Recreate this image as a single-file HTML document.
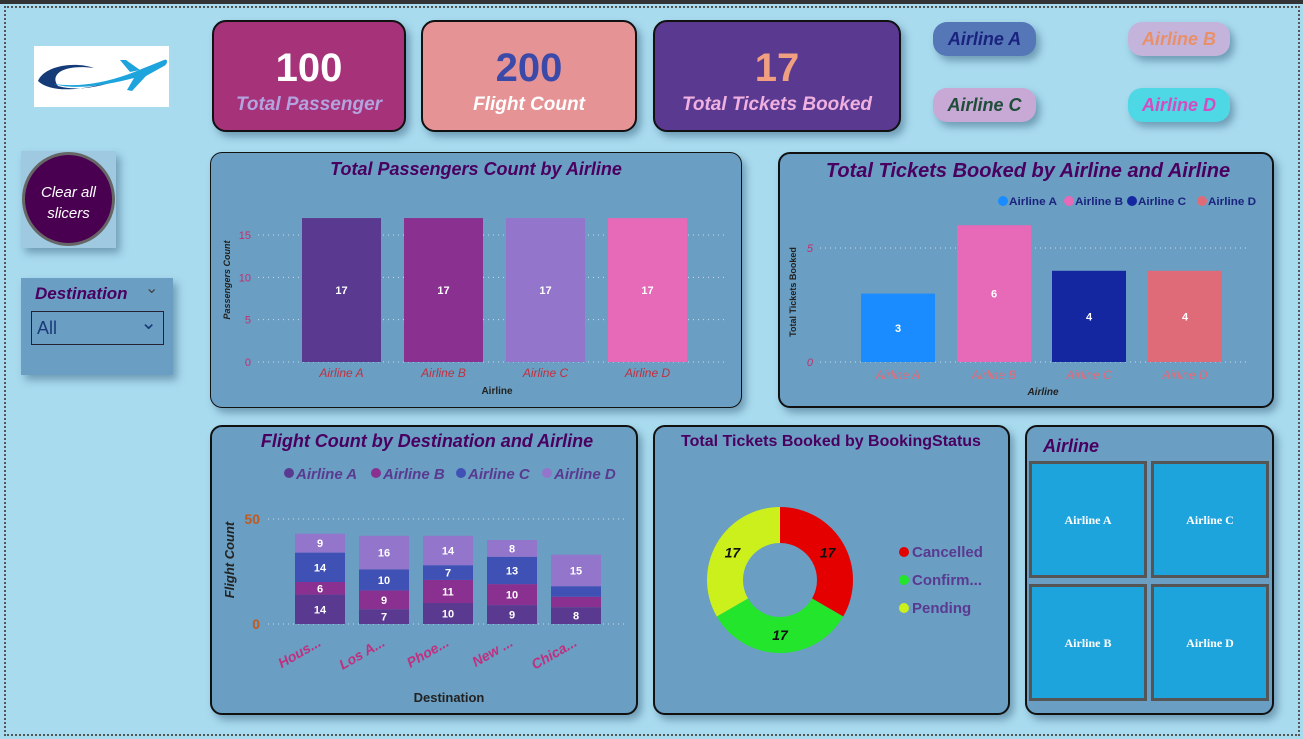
<!DOCTYPE html>
<html><head><meta charset="utf-8">
<style>
html,body{margin:0;padding:0;width:1303px;height:739px;overflow:hidden;background:#a9dbef;font-family:"Liberation Sans",sans-serif}
.abs{position:absolute;box-sizing:border-box}
.kpi{border:2px solid #111;border-radius:14px;text-align:center;box-shadow:4px 5px 8px rgba(40,80,110,.45)}
.kpi .v{font-weight:bold;font-size:40px;margin-top:24px;line-height:44px}
.kpi .l{font-style:italic;font-weight:bold;font-size:19px;margin-top:4px}
.pill{border-radius:14px;font-style:italic;font-weight:bold;font-size:18px;text-align:center;line-height:34px;box-shadow:4px 5px 8px rgba(40,80,110,.45)}
.panel{background:#6a9ec2;border:2px solid #111;border-radius:12px;box-shadow:4px 5px 8px rgba(40,80,110,.45)}
svg text{font-family:"Liberation Sans",sans-serif}
</style></head><body>
<div class="abs" style="left:4px;top:6px;width:1296px;height:730px;border:2px dotted #555"></div>
<div class="abs" style="left:0;top:0;width:1303px;height:4px;background:#333"></div>

<div class="abs" style="left:34px;top:46px;width:135px;height:61px;background:#fff">
<svg width="135" height="61"><path d="M4,35 C10,20 40,15 60,22 C30,18 15,28 24,40 C45,46 70,40 90,32 C60,42 20,50 4,35Z" fill="#143a78"/><path d="M20,38 C50,42 80,35 110,22 L130,14 C134,12 134,18 130,20 L112,30 L98,45 L93,44 L100,32 C70,40 40,44 20,38Z" fill="#1ea4dc"/><path d="M96,26 L86,14 L92,14 L106,24Z" fill="#1ea4dc"/></svg></div>

<div class="abs" style="left:21px;top:151px;width:95px;height:97px;background:#9ec9e0;box-shadow:4px 5px 8px rgba(40,80,110,.45)">
<div class="abs" style="left:1px;top:1px;width:93px;height:94px;border-radius:50%;background:#4a0050;border:3px solid #666;color:#fff;font-style:italic;font-size:15px;text-align:center;padding-top:27px;line-height:21px">Clear all<br>slicers</div></div>

<div class="abs" style="left:21px;top:278px;width:152px;height:97px;background:#6a9ec2;box-shadow:4px 5px 8px rgba(40,80,110,.45)">
<div class="abs" style="left:14px;top:6px;color:#4a0060;font-weight:bold;font-style:italic;font-size:17px">Destination</div>
<div class="abs" style="left:124px;top:0px;color:#444;font-size:16px">&#8964;</div>
<div class="abs" style="left:10px;top:33px;width:133px;height:34px;border:1px solid #223;color:#1a3a78;font-size:18px;padding:6px 0 0 5px">All<span style="position:absolute;right:6px;top:-2px;font-size:20px">&#8964;</span></div></div>

<div class="abs kpi" style="left:212px;top:20px;width:194px;height:112px;background:#a6327a"><div class="v" style="color:#fff">100</div><div class="l" style="color:#b3a4e0">Total Passenger</div></div>
<div class="abs kpi" style="left:421px;top:20px;width:216px;height:112px;background:#e69396"><div class="v" style="color:#3b4aa8">200</div><div class="l" style="color:#fff">Flight Count</div></div>
<div class="abs kpi" style="left:653px;top:20px;width:248px;height:112px;background:#5a3a91"><div class="v" style="color:#f0a080">17</div><div class="l" style="color:#f0b0e0">Total Tickets Booked</div></div>

<div class="abs pill" style="left:933px;top:22px;width:103px;height:34px;background:#5577b8;color:#1a237e">Airline A</div>
<div class="abs pill" style="left:1128px;top:22px;width:102px;height:34px;background:#c4b4dc;color:#e8906a">Airline B</div>
<div class="abs pill" style="left:933px;top:88px;width:103px;height:34px;background:#c8a8d4;color:#1f4d3a">Airline C</div>
<div class="abs pill" style="left:1128px;top:88px;width:102px;height:34px;background:#4ed8e6;color:#d54bc0">Airline D</div>

<div class="abs panel" style="left:210px;top:152px;width:532px;height:256px;border-width:1px"></div>
<div class="abs panel" style="left:778px;top:152px;width:496px;height:256px"></div>
<div class="abs panel" style="left:210px;top:425px;width:428px;height:290px"></div>
<div class="abs panel" style="left:653px;top:425px;width:357px;height:290px"></div>
<div class="abs panel" style="left:1025px;top:425px;width:249px;height:290px"></div>

<svg id="s" class="abs" style="left:0;top:0" width="1303" height="739"></svg>

<script>
// Chart 1
const airlines=["Airline A","Airline B","Airline C","Airline D"];
const passengers=[17,17,17,17];
const p1Ticks=[0,5,10,15];
// Chart 2
const tickets=[3,6,4,4];
const p2Ticks=[0,5];
// Chart 3
const destinations=["Hous...","Los A...","Phoe...","New ...","Chica..."];
const flightA=[14,7,10,9,8];
const flightB=[6,9,11,10,5];
const flightC=[14,10,7,13,5];
const flightD=[9,16,14,8,15];
const p3Ticks=[0,50];
// Donut
const statuses=["Cancelled","Confirm...","Pending"];
const statusVals=[17,17,17];

const NS="http://www.w3.org/2000/svg",S=document.getElementById('s');
function el(t,a,txt,name){const e=document.createElementNS(NS,t);for(const k in a)e.setAttribute(k,a[k]);if(txt!==undefined)e.textContent=txt;


S.appendChild(e);return e;}

// titles
el('text',{x:476,y:175,'text-anchor':'middle','font-size':18,'font-weight':'bold','font-style':'italic',fill:'#4a0060'},'Total Passengers Count by Airline','chart1-title');
el('text',{x:1028,y:177,'text-anchor':'middle','font-size':20,'font-weight':'bold','font-style':'italic',fill:'#4a0060'},'Total Tickets Booked by Airline and Airline','chart2-title');
el('text',{x:427,y:447,'text-anchor':'middle','font-size':18,'font-weight':'bold','font-style':'italic',fill:'#4a0060'},'Flight Count by Destination and Airline','chart3-title');
el('text',{x:831,y:446,'text-anchor':'middle','font-size':16,'font-weight':'bold',fill:'#4a0060'},'Total Tickets Booked by BookingStatus','chart4-title');
el('text',{x:1043,y:452,'font-size':18,'font-weight':'bold','font-style':'italic',fill:'#4a0060'},'Airline','airline-slicer-title');

// Chart 1
(function(){const y0=362,k=(362-235)/15,xs=[302,404,506,608],w=79,cols=['#5a3a91','#8a3090','#9475cc','#e66ab8'];
const y=v=>y0-v*k;
p1Ticks.forEach(t=>{el('line',{x1:258,x2:728,y1:y(t),y2:y(t),stroke:'#cde','stroke-dasharray':'1 4'},undefined,'gridline');
el('text',{x:251,y:y(t)+4,'text-anchor':'end','font-size':11,fill:'#c03070'},t,'y-tick-label');});
passengers.forEach((v,i)=>{el('rect',{x:xs[i],y:y(v),width:w,height:v*k,fill:cols[i]},undefined,'bar-'+airlines[i].toLowerCase().replace(' ','-'));
el('text',{x:xs[i]+w/2,y:y(v/2)+4,'text-anchor':'middle','font-size':11,'font-weight':'bold',fill:'#fff'},v,'bar-value');
el('text',{x:xs[i]+w/2,y:377,'text-anchor':'middle','font-size':12,'font-style':'italic',fill:'#c03040'},airlines[i],'x-tick-label');});
el('text',{x:497,y:394,'text-anchor':'middle','font-size':10,'font-weight':'bold',fill:'#222'},'Airline','x-axis-title');
el('text',{x:230,y:280,'text-anchor':'middle','font-size':9,'font-weight':'bold','font-style':'italic',fill:'#222',transform:'rotate(-90 230 280)'},'Passengers Count','y-axis-title');})();

// Chart 2
(function(){const y0=362,k=(362-248)/5,xs=[861,957,1052,1148],w=74,cols=['#1a8cff','#e66ab8','#1426a0','#e06b78'];
const y=v=>y0-v*k;
p2Ticks.forEach(t=>{el('line',{x1:820,x2:1250,y1:y(t),y2:y(t),stroke:'#cde','stroke-dasharray':'1 4'},undefined,'gridline');
el('text',{x:813,y:y(t)+4,'text-anchor':'end','font-size':11,'font-style':'italic',fill:'#c03070'},t,'y-tick-label');});
const lx=[998,1064,1127,1197];
airlines.forEach((a,i)=>{el('circle',{cx:lx[i]+5,cy:201,r:5,fill:cols[i]},undefined,'legend-marker');
el('text',{x:lx[i]+11,y:205,'font-size':11,'font-weight':'bold',fill:'#1a237e',textLength:48,lengthAdjust:'spacingAndGlyphs'},a,'legend-entry');});
tickets.forEach((v,i)=>{el('rect',{x:xs[i],y:y(v),width:w,height:v*k,fill:cols[i]},undefined,'bar-'+airlines[i].toLowerCase().replace(' ','-'));
el('text',{x:xs[i]+w/2,y:y(v/2)+4,'text-anchor':'middle','font-size':11,'font-weight':'bold',fill:'#fff'},v,'bar-value');
el('text',{x:xs[i]+w/2,y:379,'text-anchor':'middle','font-size':12,'font-style':'italic',fill:'#e06b78'},airlines[i],'x-tick-label');});
el('text',{x:1043,y:395,'text-anchor':'middle','font-size':10,'font-weight':'bold','font-style':'italic',fill:'#222'},'Airline','x-axis-title');
el('text',{x:796,y:292,'text-anchor':'middle','font-size':9,'font-weight':'bold',fill:'#222',transform:'rotate(-90 796 292)'},'Total Tickets Booked','y-axis-title');})();

// Chart 3
(function(){const y0=624,k=(624-519)/50,xs=[295,359,423,487,551],w=50,cols=['#5a3a91','#8a3090','#3f51b5','#9475cc'];
const y=v=>y0-v*k;const series=[flightA,flightB,flightC,flightD];
p3Ticks.forEach(t=>{el('line',{x1:268,x2:628,y1:y(t),y2:y(t),stroke:'#cde','stroke-dasharray':'1 4'},undefined,'gridline');
el('text',{x:260,y:y(t)+5,'text-anchor':'end','font-size':14,'font-weight':'bold',fill:'#c05a20'},t,'y-tick-label');});
const lx=[284,371,456,542];
airlines.forEach((a,i)=>{el('circle',{cx:lx[i]+5,cy:473,r:5,fill:cols[i]},undefined,'legend-marker');
el('text',{x:lx[i]+12,y:479,'font-size':15,'font-weight':'bold','font-style':'italic',fill:'#5a3a91'},a,'legend-entry');});
destinations.forEach((d,j)=>{let acc=0;series.forEach((s,i)=>{const v=s[j];
el('rect',{x:xs[j],y:y(acc+v),width:w,height:v*k,fill:cols[i]},undefined,'bar-segment');
if(v*k>12)el('text',{x:xs[j]+w/2,y:y(acc+v/2)+4,'text-anchor':'middle','font-size':11,'font-weight':'bold',fill:'#fff'},v,'bar-value');
acc+=v;});
const tx=xs[j]+w/2+2,ty=645;
el('text',{x:tx,y:ty,'text-anchor':'end','font-size':14,'font-weight':'bold','font-style':'italic',fill:'#c03080',transform:`rotate(-30 ${tx} ${ty})`},d,'x-tick-label');});
el('text',{x:449,y:702,'text-anchor':'middle','font-size':13,'font-weight':'bold',fill:'#222'},'Destination','x-axis-title');
el('text',{x:234,y:560,'text-anchor':'middle','font-size':13,'font-weight':'bold','font-style':'italic',fill:'#222',transform:'rotate(-90 234 560)'},'Flight Count','y-axis-title');})();

// Donut
(function(){const cx=780,cy=580,R=73,r=37,cols=['#e50000','#22e52c','#ccf01c'];
const tot=statusVals.reduce((a,b)=>a+b,0);let a0=-Math.PI/2;
statusVals.forEach((v,i)=>{const a1=a0+v/tot*2*Math.PI,lg=(a1-a0)>Math.PI?1:0;
const p=(rr,a)=>[cx+rr*Math.cos(a),cy+rr*Math.sin(a)];
const [x1,y1]=p(R,a0),[x2,y2]=p(R,a1),[x3,y3]=p(r,a1),[x4,y4]=p(r,a0);
el('path',{d:`M${x1},${y1}A${R},${R} 0 ${lg} 1 ${x2},${y2}L${x3},${y3}A${r},${r} 0 ${lg} 0 ${x4},${y4}Z`,fill:cols[i]},undefined,'slice-'+statuses[i].toLowerCase());
const am=(a0+a1)/2,[lx,ly]=p((R+r)/2,am);
el('text',{x:lx,y:ly+5,'text-anchor':'middle','font-size':14,'font-weight':'bold','font-style':'italic',fill:'#111'},v,'slice-label');
el('circle',{cx:904,cy:552+i*28,r:5,fill:cols[i]},undefined,'legend-marker');
el('text',{x:912,y:557+i*28,'font-size':15,'font-weight':'bold',fill:'#5a3a91'},statuses[i],'legend-entry');
a0=a1;});})();

// airline tiles
[[1029,461,'Airline A'],[1151,461,'Airline C'],[1029,584,'Airline B'],[1151,584,'Airline D']].forEach(t=>{
const r=el('rect',{x:t[0]+1.5,y:t[1]+1.5,width:115,height:114,fill:'#1ea4dc',stroke:'#555','stroke-width':3},undefined,'tile-'+t[2].toLowerCase().replace(' ','-'));

el('text',{x:t[0]+59,y:t[1]+63,'text-anchor':'middle','font-size':12,'font-weight':'bold',style:'font-family:"Liberation Serif",serif',fill:'#fff'},t[2],'tile-label');});
</script>
</body></html>
